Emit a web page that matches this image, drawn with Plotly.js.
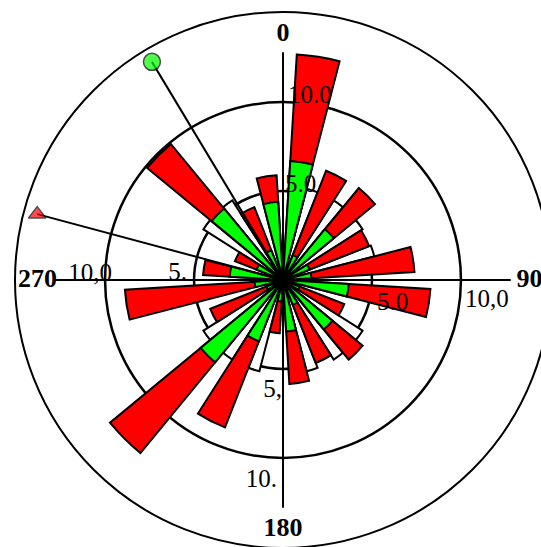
<!DOCTYPE html>
<html><head><meta charset="utf-8">
<script src="https://cdn.plot.ly/plotly-3.0.1.min.js"></script>
<style>html,body{margin:0;padding:0;overflow:hidden;background:#fff}#chart{width:570px;height:570px}</style>
</head><body><div id="chart"></div>
<script>
// bar directions (degrees, clockwise from north)
const barDirections = [9, 27, 45, 63, 81, 99, 117, 135, 153, 171, 189, 207, 225, 243, 261, 279, 297, 315, 333, 351];
const redValues   = [12.7, 6.6, 6.7, 5.2, 7.4, 8.3, 3.7, 5.8, 5.0, 5.85, 3.0, 8.9, 12.6, 4.4, 8.9, 4.5, 2.9, 9.9, 4.4, 5.9];
const greenValues = [6.7, 1.5, 3.7, 1.6, 1.6, 3.7, 1.0, 3.6, 1.5, 2.9, 1.2, 3.7, 6.0, 1.0, 1.6, 3.0, 1.6, 5.2, 1.8, 4.4];
// narrow white wedges in some gaps
const gapDirections = [18, 36, 54, 72, 126, 144, 162, 198, 216, 234, 306, 324];
const gapValues     = [5.3, 5.3, 5.3, 5.3, 5.3, 5.3, 5.3, 5.3, 5.3, 5.3, 5.3, 5.3];
// two marker lines
const lineDirections = [329, 285];
const lineLengths = [14.3, 14.3];
// axis labels
const axisDirections = [0, 90, 180, 270];
const axisLabels = ['0', '90', '180', '270'];
const axisLineLength = 12.8;
// radial tick labels along each axis
const radialTicks = [5, 10];
const tickLabelsNorth = ['5.0', '10.0'];
const tickLabelsEast  = ['5.0', '10,0'];
const tickLabelsSouth = ['5,', '10.'];
const tickLabelsWest  = ['5.', '10,0'];

// label placement (positions only)
const axisLabelRadius = [13.8, 13.85, 14.0, 13.8];
const northLabelPos = {r:[5.30, 10.30], theta:[1.2, 1.6]};
const eastLabelPos  = {r:[5.45, 10.29], theta:[104.2, 96.5]};
const southLabelPos = {r:[6.22, 11.28], theta:[180.5, 181.7]};
const westLabelPos  = {r:[5.40, 9.61], theta:[273.7, 271.7]};

const W = 570, H = 570, cx = 283, cy = 280, R = 268;
const serif = 'Liberation Serif, Times New Roman, serif';

const traces = [];
traces.push({type:'barpolar', r: gapValues, theta: gapDirections, width: gapDirections.map(()=>7),
  marker:{color:'white', line:{color:'black', width:2}}, hoverinfo:'skip'});
traces.push({type:'barpolar', r: redValues, theta: barDirections, width: barDirections.map(()=>11),
  marker:{color:'#ff0000', line:{color:'black', width:2}}, hoverinfo:'skip'});
traces.push({type:'barpolar', r: greenValues, theta: barDirections, width: barDirections.map(()=>11),
  marker:{color:'#00ff00', line:{color:'black', width:2}}, hoverinfo:'skip'});

// cross axis lines
const axR = [], axT = [];
axisDirections.forEach(d => { axR.push(0, axisLineLength, null); axT.push(d, d, null); });
traces.push({type:'scatterpolar', mode:'lines', r: axR, theta: axT, line:{color:'black', width:2}, hoverinfo:'skip'});

// lines with markers
traces.push({type:'scatterpolar', mode:'lines+markers', r:[0, lineLengths[0]], theta:[lineDirections[0], lineDirections[0]],
  line:{color:'black', width:2}, marker:{symbol:'circle', size:[0,17], color:'#00ff00', line:{color:'black', width:1.5}}, hoverinfo:'skip'});
traces.push({type:'scatterpolar', mode:'lines+markers', r:[0, lineLengths[1]], theta:[lineDirections[1], lineDirections[1]],
  line:{color:'black', width:2}, marker:{symbol:'triangle-up', size:[0,15], color:'#ff0000', line:{color:'black', width:1.5}}, hoverinfo:'skip'});

// angular labels
traces.push({type:'scatterpolar', mode:'text', r: axisLabelRadius, theta: axisDirections, text: axisLabels,
  textposition:'middle center', textfont:{family:serif, size:26, color:'black', weight:'bold'}, hoverinfo:'skip'});

// radial tick labels
const tf = {family:serif, size:25, color:'black'};
[[northLabelPos, tickLabelsNorth, 'middle right'], [eastLabelPos, tickLabelsEast, 'middle right'],
 [southLabelPos, tickLabelsSouth, 'middle left'], [westLabelPos, tickLabelsWest, 'middle left']]
.forEach(([pos, labels, tp]) => {
  traces.push({type:'scatterpolar', mode:'text', r: pos.r, theta: pos.theta, text: labels,
    textposition: tp, textfont: tf, hoverinfo:'skip'});
});

const layout = {
  width: W, height: H, margin:{l:0, r:0, t:0, b:0}, showlegend:false,
  paper_bgcolor:'white', hovermode:false,
  polar:{
    domain:{x:[(cx-R)/W, (cx+R)/W], y:[(H-cy-R)/H, (H-cy+R)/H]},
    bgcolor:'white', barmode:'overlay',
    radialaxis:{range:[0, 15.06], tickvals: radialTicks, showticklabels:false, ticks:'', showline:false,
      gridcolor:'black', gridwidth:2.5},
    angularaxis:{rotation:90, direction:'clockwise', showgrid:false, showticklabels:false, ticks:'',
      showline:true, linecolor:'black', linewidth:2}
  }
};
Plotly.newPlot('chart', traces, layout, {staticPlot:true});
</script></body></html>
